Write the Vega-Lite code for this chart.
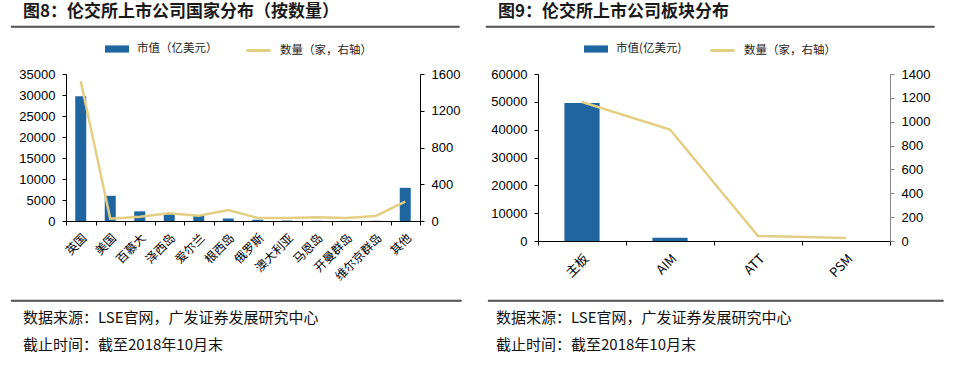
{
  "$schema": "https://vega.github.io/schema/vega-lite/v6.json",
  "padding": {"left": -16, "top": 2, "right": 5, "bottom": 0},
  "background": "white",
  "config": {
    "view": {"stroke": null},
    "font": "Noto Sans CJK SC",
    "axis": {"grid": false, "domainColor": "#000", "tickColor": "#000", "tickSize": 4, "labelColor": "#000", "labelFont": "Liberation Sans", "labelFontSize": 13, "labelPadding": 7, "title": null},
    "legend": {"labelFont": "Noto Sans CJK SC", "labelFontSize": 11.5, "labelColor": "#222", "title": null, "labelOffset": 14}
  },
  "columns": 2,
  "align": "none",
  "spacing": {"row": 11, "column": 25},
  "resolve": {"scale": {"fill": "independent", "stroke": "independent"}},
  "concat": [
    {
      "width": 1, "height": 1, "view": {"fill": "white"},
      "data": {"values": [{"t": ""}]}, "mark": "text", "encoding": {"text": {"field": "t"}}
    },
    {
      "spacing": 25,
      "hconcat": [
        {
          "width": 448, "height": 1,
          "view": {"stroke": "#000", "strokeWidth": 0.75},
          "title": {"text": "图8：伦交所上市公司国家分布（按数量）", "anchor": "start", "font": "Noto Sans CJK SC", "fontSize": 17, "fontWeight": "bold", "color": "#1a1a1a", "offset": 0, "dx": 12},
          "data": {"values": [{"t": ""}]},
          "mark": "text",
          "encoding": {"text": {"field": "t"}}
        },
        {
          "width": 448, "height": 1,
          "view": {"stroke": "#000", "strokeWidth": 0.75},
          "title": {"text": "图9：伦交所上市公司板块分布", "anchor": "start", "font": "Noto Sans CJK SC", "fontSize": 17, "fontWeight": "bold", "color": "#1a1a1a", "offset": 0, "dx": 12},
          "data": {"values": [{"t": ""}]},
          "mark": "text",
          "encoding": {"text": {"field": "t"}}
        }
      ]
    },
    {
      "width": 1, "height": 1, "view": {"fill": "white"},
      "data": {"values": [{"t": ""}]}, "mark": "text", "encoding": {"text": {"field": "t"}}
    },
    {
      "spacing": 25,
      "resolve": {"scale": {"fill": "independent", "stroke": "independent"}},
      "hconcat": [
        {
          "width": 354, "height": 147,
          "data": {"values": [
            {"country": "英国", "cap": 29700, "count": 1520},
            {"country": "美国", "cap": 6000, "count": 25},
            {"country": "百慕大", "cap": 2300, "count": 47},
            {"country": "泽西岛", "cap": 1900, "count": 84},
            {"country": "爱尔兰", "cap": 1200, "count": 58},
            {"country": "根西岛", "cap": 600, "count": 120},
            {"country": "俄罗斯", "cap": 300, "count": 33},
            {"country": "澳大利亚", "cap": 100, "count": 33},
            {"country": "马恩岛", "cap": 60, "count": 40},
            {"country": "开曼群岛", "cap": 50, "count": 33},
            {"country": "维尔京群岛", "cap": 50, "count": 55},
            {"country": "其他", "cap": 7900, "count": 211}
          ]},
          "layer": [
            {
              "mark": {"type": "bar", "width": {"band": 0.373}},
              "encoding": {
                "x": {"field": "country", "type": "nominal", "sort": null, "scale": {"paddingInner": 0, "paddingOuter": 0},
                      "axis": {"labelAngle": -45, "labelFont": "Noto Sans CJK SC", "labelFontSize": 12, "tickBand": "extent", "labelPadding": 7}},
                "y": {"field": "cap", "type": "quantitative", "scale": {"domain": [0, 35000]},
                      "axis": {"values": [0, 5000, 10000, 15000, 20000, 25000, 30000, 35000], "format": "d", "minExtent": 56}},
                "fill": {"datum": "市值（亿美元）", "type": "nominal", "scale": {"range": ["#1f65a0"]},
                         "legend": {"orient": "none", "legendX": 45, "legendY": -31, "symbolType": "M-2,-0.6H2V0.6H-2Z", "symbolSize": 144, "symbolStrokeWidth": 0}}
              }
            },
            {
              "mark": {"type": "line", "strokeWidth": 2.5},
              "encoding": {
                "x": {"field": "country", "type": "nominal", "sort": null},
                "y": {"field": "count", "type": "quantitative", "scale": {"domain": [0, 1600]},
                      "axis": {"orient": "right", "values": [0, 400, 800, 1200, 1600], "format": "d"}},
                "stroke": {"datum": "数量（家，右轴）", "type": "nominal", "scale": {"range": ["#e2cf83"]},
                           "legend": {"orient": "none", "legendX": 185, "legendY": -31, "symbolType": "M-2,0H2", "symbolSize": 144, "symbolStrokeWidth": 3}}
              }
            }
          ],
          "resolve": {"scale": {"y": "independent"}}
        },
        {
          "width": 352, "height": 167,
          "data": {"values": [
            {"board": "主板", "cap": 49600, "count": 1165},
            {"board": "AIM", "cap": 1200, "count": 935},
            {"board": "ATT", "cap": 10, "count": 42},
            {"board": "PSM", "cap": 5, "count": 25}
          ]},
          "layer": [
            {
              "mark": {"type": "bar", "width": {"band": 0.4}},
              "encoding": {
                "x": {"field": "board", "type": "nominal", "sort": null, "scale": {"paddingInner": 0, "paddingOuter": 0},
                      "axis": {"labelAngle": -45, "labelFont": "Noto Sans CJK SC", "labelFontSize": 13, "tickBand": "extent", "labelPadding": 7}},
                "y": {"field": "cap", "type": "quantitative", "scale": {"domain": [0, 60000]},
                      "axis": {"values": [0, 10000, 20000, 30000, 40000, 50000, 60000], "format": "d", "minExtent": 53}},
                "fill": {"datum": "市值(亿美元)", "type": "nominal", "scale": {"range": ["#1f65a0"]},
                         "legend": {"orient": "none", "legendX": 52, "legendY": -31, "symbolType": "M-2,-0.6H2V0.6H-2Z", "symbolSize": 144, "symbolStrokeWidth": 0}}
              }
            },
            {
              "mark": {"type": "line", "strokeWidth": 2.5},
              "encoding": {
                "x": {"field": "board", "type": "nominal", "sort": null},
                "y": {"field": "count", "type": "quantitative", "scale": {"domain": [0, 1400]},
                      "axis": {"orient": "right", "values": [0, 200, 400, 600, 800, 1000, 1200, 1400], "format": "d", "domainColor": "#868686", "tickColor": "#868686"}},
                "stroke": {"datum": "数量（家，右轴）", "type": "nominal", "scale": {"range": ["#e2cf83"]},
                           "legend": {"orient": "none", "legendX": 177, "legendY": -31, "symbolType": "M-2,0H2", "symbolSize": 144, "symbolStrokeWidth": 3}}
              }
            }
          ],
          "resolve": {"scale": {"y": "independent"}}
        }
      ]
    },
    {
      "width": 1, "height": 1, "view": {"fill": "white"},
      "data": {"values": [{"t": ""}]}, "mark": "text", "encoding": {"text": {"field": "t"}}
    },
    {
      "spacing": 25,
      "hconcat": [
        {
          "width": 450, "height": 1,
          "view": {"stroke": "#000", "strokeWidth": 0.75},
          "title": {"text": "数据来源：LSE官网，广发证券发展研究中心", "subtitle": "截止时间：截至2018年10月末", "orient": "bottom", "anchor": "start", "font": "Noto Sans CJK SC", "fontSize": 15, "fontWeight": "normal", "color": "#111", "subtitleFont": "Noto Sans CJK SC", "subtitleFontSize": 15, "subtitleColor": "#111", "subtitlePadding": 12, "offset": 5, "dx": 12},
          "data": {"values": [{"t": ""}]},
          "mark": "text",
          "encoding": {"text": {"field": "t"}}
        },
        {
          "width": 455, "height": 1,
          "view": {"stroke": "#000", "strokeWidth": 0.75},
          "title": {"text": "数据来源：LSE官网，广发证券发展研究中心", "subtitle": "截止时间：截至2018年10月末", "orient": "bottom", "anchor": "start", "font": "Noto Sans CJK SC", "fontSize": 15, "fontWeight": "normal", "color": "#111", "subtitleFont": "Noto Sans CJK SC", "subtitleFontSize": 15, "subtitleColor": "#111", "subtitlePadding": 12, "offset": 5, "dx": 8},
          "data": {"values": [{"t": ""}]},
          "mark": "text",
          "encoding": {"text": {"field": "t"}}
        }
      ]
    }
  ]
}
